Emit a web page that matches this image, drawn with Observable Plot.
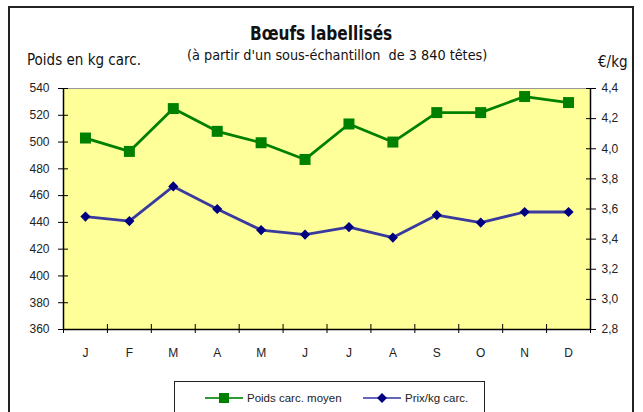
<!DOCTYPE html>
<html>
<head>
<meta charset="utf-8">
<script src="https://cdn.jsdelivr.net/npm/d3@7"></script>
<script src="https://cdn.jsdelivr.net/npm/@observablehq/plot@0.6"></script>
<style>
  html, body { margin: 0; padding: 0; background: #fff; }
  #wrap { position: relative; width: 643px; height: 412px; overflow: hidden;
          font-family: "Liberation Sans Narrow", "Arial Narrow", "DejaVu Sans Condensed", sans-serif; color: #111; }
  #frame { position: absolute; left: 8px; top: 6px; width: 626px; height: 420px; border: 2px solid #222; box-sizing: border-box; z-index: 5; pointer-events: none; }
  .t { position: absolute; white-space: nowrap; }
  #title { left: 0; width: 643px; text-align: center; top: 22px; font-size: 19px; font-weight: bold; }
  #title span { display: inline-block; transform: scaleX(0.9); }
  #sub { left: 187px; top: 47px; font-size: 14.3px; }
  #ylab { left: 27px; top: 51px; font-size: 15px; }
  #y2lab { left: 598px; top: 53px; font-size: 15px; }
  #legend { position: absolute; left: 174px; top: 381px; width: 311px; height: 40px; border: 1px solid #222; box-sizing: border-box; background: #fff; }
  #chart { position: absolute; left: 0; top: 0; }
  #legend .item { position: absolute; top: 9px; display: flex; align-items: center; font-size: 11.5px; font-family: "Liberation Sans", Arial, sans-serif; color: #222; }
</style>
</head>
<body>
<div id="wrap">
  <div id="chart"></div>
  <div class="t" id="title"><span>Bœufs labellisés</span></div>
  <div class="t" id="sub">(à partir d'un sous-échantillon&nbsp; de 3 840 têtes)</div>
  <div class="t" id="ylab">Poids en kg carc.</div>
  <div class="t" id="y2lab">€/kg</div>
  <div id="legend"></div>
  <div id="frame"></div>
</div>
<script>
const months = ["J","F","M","A","M","J","J","A","S","O","N","D"];
const poids = [503, 493, 525, 508, 499.5, 487, 513.5, 500, 522, 522, 534, 529.5];
const prix = [3.55, 3.52, 3.75, 3.60, 3.46, 3.43, 3.48, 3.41, 3.56, 3.51, 3.58, 3.58];
const leftTicks = [360, 380, 400, 420, 440, 460, 480, 500, 520, 540];
const rightTicks = [2.8, 3.0, 3.2, 3.4, 3.6, 3.8, 4.0, 4.2, 4.4];
const leftDomain = [360, 540];
const rightDomain = [2.8, 4.4];
const seriesNames = ["Poids carc. moyen", "Prix/kg carc."];

const green = "#008000";
const blueLine = "#3a3a9e";
const blueMark = "#000080";

// map right-axis values into left-axis space
const toLeft = v => leftDomain[0] + (v - rightDomain[0]) / (rightDomain[1] - rightDomain[0]) * (leftDomain[1] - leftDomain[0]);
const fromLeft = w => rightDomain[0] + (w - leftDomain[0]) / (leftDomain[1] - leftDomain[0]) * (rightDomain[1] - rightDomain[0]);

const dataP = poids.map((v, i) => ({i, v}));
const dataQ = prix.map((v, i) => ({i, v: toLeft(v)}));
const xIdx = d3.range(months.length);
const xBounds = d3.range(months.length + 1).map(k => k - 0.5);
const xDomain = [xBounds[0], xBounds[xBounds.length - 1]];

const fmt = v => v.toFixed(1).replace(".", ",");

const chart = Plot.plot({
  width: 643,
  height: 412,
  marginLeft: 63,
  marginRight: 53,
  marginTop: 88,
  marginBottom: 83,
  style: {background: "transparent", fontFamily: "'Liberation Sans', Arial, sans-serif", fontSize: "12px", color: "#222"},
  x: {domain: xDomain, axis: null, label: null},
  y: {domain: leftDomain, axis: null, label: null},
  marks: [
    Plot.frame({fill: "#ffff99", stroke: null}),
    Plot.ruleY([leftDomain[1]], {stroke: "#999", strokeWidth: 1}),
    // left axis
    Plot.axisY(leftTicks, {anchor: "left", label: null, tickSize: 5, tickPadding: 9, tickFormat: d => d, stroke: "#000", fill: "#222"}),
    Plot.axisY(leftTicks, {anchor: "left", label: null, tickSize: -5, tickFormat: () => "", stroke: "#000"}),
    // right axis
    Plot.axisY(rightTicks.map(toLeft), {anchor: "right", label: null, tickSize: 5, tickPadding: 6, tickFormat: d => fmt(fromLeft(d)), stroke: "#000", fill: "#222"}),
    Plot.axisY(rightTicks.map(toLeft), {anchor: "right", label: null, tickSize: -5, tickFormat: () => "", stroke: "#000"}),
    // bottom axis
    Plot.axisX(xBounds, {anchor: "bottom", label: null, tickSize: 4, tickFormat: () => "", stroke: "#000"}),
    Plot.axisX(xBounds, {anchor: "bottom", label: null, tickSize: -5, tickFormat: () => "", stroke: "#000"}),
    Plot.axisX(xIdx, {anchor: "bottom", label: null, tickSize: 0, tickPadding: 19, tickFormat: i => months[i], fill: "#222"}),
    Plot.ruleX([xDomain[0], xDomain[1]], {stroke: "#000", strokeWidth: 1.5}),
    Plot.ruleY([leftDomain[0]], {stroke: "#000", strokeWidth: 1.5}),
    // series
    Plot.line(dataP, {x: "i", y: "v", stroke: green, strokeWidth: 2.8}),
    Plot.dot(dataP, {x: "i", y: "v", symbol: "square", r: 6.2, fill: green, stroke: null}),
    Plot.line(dataQ, {x: "i", y: "v", stroke: blueLine, strokeWidth: 2.8}),
    Plot.dot(dataQ, {x: "i", y: "v", symbol: "diamond2", r: 4.6, fill: blueMark, stroke: null})
  ]
});
document.getElementById("chart").appendChild(chart);

// legend
const legend = document.getElementById("legend");
const items = [
  {name: seriesNames[0], left: 30, lineColor: "#2f9a2f", mark: `<rect x="14" y="2" width="10" height="10" fill="${green}"/>`},
  {name: seriesNames[1], left: 188, lineColor: "#6666bb", mark: `<path d="M19 2 L24 7 L19 12 L14 7 Z" fill="${blueMark}"/>`}
];
for (const it of items) {
  const div = document.createElement("div");
  div.className = "item";
  div.style.left = it.left + "px";
  div.innerHTML = `<svg width="38" height="14" style="margin-right:4px"><line x1="0" y1="7" x2="38" y2="7" stroke="${it.lineColor}" stroke-width="2"/>${it.mark}</svg><span>${it.name}</span>`;
  legend.appendChild(div);
}
</script>
</body>
</html>
